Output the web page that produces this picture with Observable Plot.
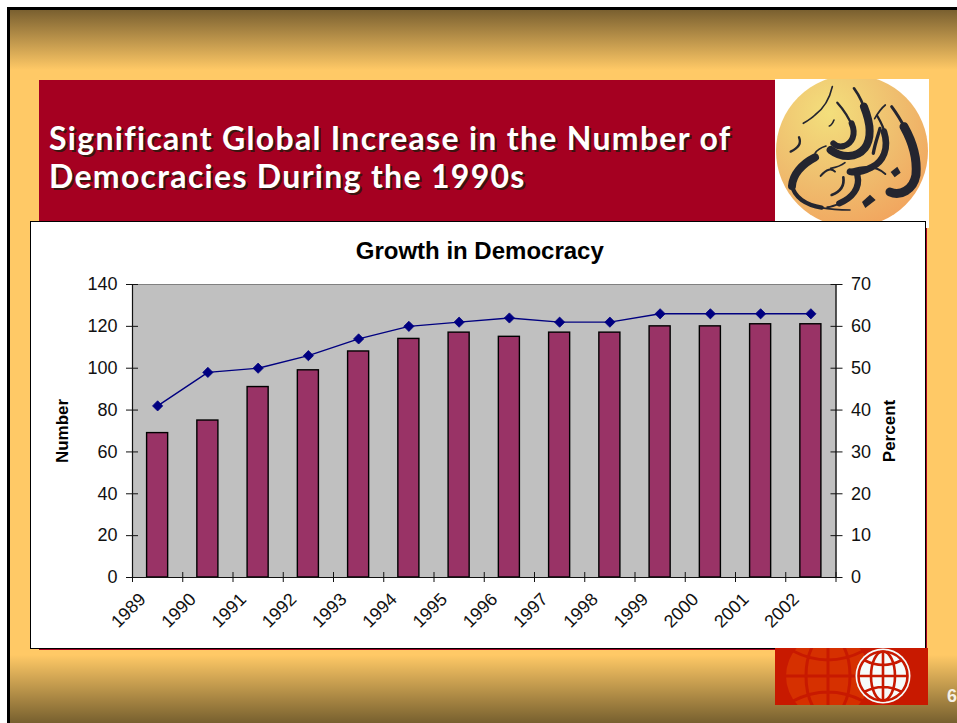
<!DOCTYPE html>
<html>
<head>
<meta charset="utf-8">
<script src="https://cdn.jsdelivr.net/npm/d3@7"></script>
<script src="https://cdn.jsdelivr.net/npm/@observablehq/plot@0.6"></script>
<style>
  html, body { margin: 0; padding: 0; background: #fff; overflow: hidden; }
  #slide { position: relative; width: 957px; height: 723px; overflow: hidden; }
  #slide > * { position: absolute; }
  #ground {
    left: 7px; top: 7px; width: 950px; height: 716px; box-sizing: border-box;
    border-left: 3px solid #000; border-top: 3px solid #000;
    background: linear-gradient(to bottom, #7a6030 0, #ffc966 60px, #ffc966 645px, #77602f 713px);
  }
  #band { left: 39px; top: 80px; width: 888px; height: 570px; background: #a50021; }
  #headline {
    left: 49px; top: 119px; color: #fff; margin: 0;
    font: 700 32px/38px "Lato", sans-serif; letter-spacing: 1.3px;
    text-shadow: 2px 2px 0 #3a1510;
  }
  #seal { left: 700px; top: 60px; }
  #panel { left: 30px; top: 221px; width: 896px; height: 428px; box-sizing: border-box; background: #fff; border: 1px solid #000; }
  #globe { left: 775px; top: 648px; }
  #page { left: 947px; top: 686px; color: #f5f0e6; font: 700 18px "Liberation Sans", sans-serif; }
  #chart { left: 0; top: 0; }
  #chart svg { display: block; background: transparent; }
  g[aria-label="number title"] text, g[aria-label="percent title"] text { letter-spacing: -1.5px; }
  g[aria-label="chart title"] text { letter-spacing: 1.8px; }
</style>
</head>
<body>
<div id="slide">
  <div id="ground"></div>
  <div id="band"></div>
  <h1 id="headline">Significant Global Increase in the Number of<br>Democracies During the 1990s</h1>

  <svg id="seal" width="257" height="240" viewBox="700 60 257 240">
    <defs>
      <radialGradient id="sealFill" cx="35%" cy="25%" r="85%">
        <stop offset="0" stop-color="#f3df7c"/>
        <stop offset=".55" stop-color="#efbd6e"/>
        <stop offset="1" stop-color="#f2a25c"/>
      </radialGradient>
      <clipPath id="sealBox"><rect x="775" y="79" width="154" height="149"/></clipPath>
    </defs>
    <rect x="775" y="79" width="154" height="149" fill="#fff"/>
    <circle cx="852" cy="151" r="76" fill="url(#sealFill)" clip-path="url(#sealBox)"/>
    <g transform="translate(700 60) scale(.3333)" fill="none" stroke="#24252f" stroke-linecap="round" stroke-linejoin="round">
      <path stroke-width="8" d="M462 85C480 110 490 130 497 160"/>
      <path stroke-width="24" d="M492 140C512 190 516 235 494 265C470 295 425 295 392 270"/>
      <path stroke-width="5" d="M397 80C388 120 372 145 345 165C335 175 322 183 310 190"/>
      <path stroke-width="7" d="M412 128C432 150 450 180 460 205"/>
      <path stroke-width="18" d="M455 190C470 225 455 250 432 258C418 262 408 258 400 250"/>
      <path stroke-width="5" d="M402 180C398 190 394 196 388 198"/>
      <path stroke-width="9" d="M575 140C590 160 605 185 618 210"/>
      <path stroke-width="27" d="M612 200C640 250 652 300 648 345C640 390 600 410 570 396"/>
      <path stroke-width="5" d="M556 135C540 148 532 162 524 176"/>
      <path stroke-width="7" d="M532 168C545 190 552 205 556 225"/>
      <path stroke-width="20" d="M552 215C568 265 550 305 515 322C490 335 470 340 450 335"/>
      <path stroke-width="6" d="M452 330C490 318 525 315 556 342"/>
      <path stroke-width="24" d="M345 292C305 312 278 345 276 378"/>
      <path stroke-width="13" d="M276 375C282 412 318 435 365 443"/>
      <path stroke-width="5" d="M362 443C390 448 420 450 450 450"/>
      <path stroke-width="19" d="M472 345C482 385 455 415 418 430"/>
      <path stroke-width="6" d="M420 430C408 435 395 440 382 442"/>
      <path stroke-width="8" d="M395 405C420 396 434 378 430 352"/>
      <path stroke-width="7" d="M272 275C296 264 304 248 297 232"/>
      <path stroke-width="6" d="M362 348C380 325 395 325 405 335"/>
      <path stroke-width="5" d="M392 325C410 322 425 316 435 308"/>
      <path stroke-width="5" d="M345 280C350 272 365 262 378 258"/>
      <path stroke-width="10" d="M520 280C525 250 535 225 540 205"/>
      <path fill="#24252f" stroke="none" d="M486 426L510 404L527 420L496 444Z"/>
      <path fill="#24252f" stroke="none" d="M572 336L592 320L602 338L584 352Z"/>
    </g>
  </svg>

  <div id="panel"></div>

  <svg id="globe" width="153" height="57" viewBox="775 648 153 57">
    <rect x="775" y="648" width="153" height="57" fill="#c81900"/>
    <g fill="none">
      <circle cx="828" cy="676" r="42" fill="#d63000"/>
      <g stroke="#c81900" stroke-width="3">
        <ellipse cx="828" cy="676" rx="22" ry="42"/>
        <path d="M828 634V718M786 676H870M793 651Q828 669 863 651M793 701Q828 683 863 701"/>
      </g>
      <circle cx="883" cy="676" r="27.5" fill="#f6fbfa"/>
      <g stroke="#c81900" stroke-width="2.6">
        <circle cx="883" cy="676" r="24.5"/>
        <ellipse cx="883" cy="676" rx="12" ry="24.5"/>
        <path d="M883 652V700M859 676H907M864 660Q883 670 902 660M864 692Q883 682 902 692"/>
      </g>
    </g>
  </svg>

  <div id="page">6</div>
  <div id="chart"></div>
</div>

<script>
// Democracies worldwide, count (left axis) and share of all countries (right axis)
const years = [1989, 1990, 1991, 1992, 1993, 1994, 1995, 1996, 1997, 1998, 1999, 2000, 2001, 2002];
const numberOfDemocracies = [69, 75, 91, 99, 108, 114, 117, 115, 117, 117, 120, 120, 121, 121];
const percentDemocracies = [41, 49, 50, 53, 57, 60, 61, 62, 61, 61, 63, 63, 63, 63];
const leftTicks = [0, 20, 40, 60, 80, 100, 120, 140];

const chartTitle = "Growth in Democracy";
const leftTitle = "Number";
const rightTitle = "Percent";

const rows = years.map((year, i) => ({
  year,
  number: numberOfDemocracies[i],
  percent: percentDemocracies[i]
}));
// Year ticks sit on the category boundaries, so one more closes the last bar's slot.
const xTicks = [...years, years[years.length - 1] + 1];

const font = "'Liberation Sans', Arial, sans-serif";
const ink = "#111";
const barInset = 14.6;

const plot = Plot.plot({
  width: 957,
  height: 723,
  marginLeft: 132,
  marginRight: 121.5,
  marginTop: 284,
  marginBottom: 146,
  style: { fontFamily: font, fontSize: "18px", color: ink, background: "transparent" },
  x: { domain: [xTicks[0], xTicks[xTicks.length - 1]] },
  y: { domain: [0, 140] },
  marks: [
    Plot.frame({ fill: "#c0c0c0", stroke: "#808080" }),
    Plot.rectY(rows, {
      x1: "year",
      x2: d => d.year + 1,
      y: "number",
      insetLeft: barInset,
      insetRight: barInset,
      fill: "#993366",
      stroke: "#000",
      strokeWidth: 1.4
    }),
    Plot.ruleX([xTicks[0], xTicks[xTicks.length - 1]], { stroke: ink, strokeWidth: 1.2 }),
    Plot.ruleY([0], { stroke: ink, strokeWidth: 1.2 }),
    Plot.axisX({ ticks: xTicks, tickFormat: () => "", tickSize: 10, dy: -5, label: null, stroke: ink }),
    Plot.axisY({ ticks: leftTicks, tickSize: 12, dx: 6, tickPadding: 9, label: null, stroke: ink }),
    Plot.axisY({
      anchor: "right",
      ticks: leftTicks,
      tickFormat: d => d / 2,
      tickSize: 12,
      dx: -6,
      tickPadding: 9,
      label: null,
      stroke: ink
    }),
    // Percentages run on the right axis, where 70 lines up with 140 on the left.
    Plot.line(rows, {
      x: d => d.year + 0.5,
      y: d => d.percent * 2,
      stroke: "#000080",
      strokeWidth: 1.4
    }),
    Plot.dot(rows, {
      x: d => d.year + 0.5,
      y: d => d.percent * 2,
      symbol: "diamond2",
      r: 4.6,
      fill: "#000080",
      stroke: "#000080",
      strokeWidth: 0.8
    }),
    Plot.text(years, {
      x: d => d,
      y: () => 0,
      text: d => String(d),
      rotate: -45,
      dx: -4,
      dy: 33,
      fill: ink
    }),
    Plot.text([chartTitle], {
      ariaLabel: "chart title",
      frameAnchor: "top",
      dx: -4.5,
      dy: -43,
      fontWeight: "bold",
      fontSize: 24,
      fill: "#000"
    }),
    Plot.text([leftTitle], {
      ariaLabel: "number title",
      frameAnchor: "left",
      textAnchor: "middle",
      dx: -70,
      rotate: -90,
      fontWeight: "bold",
      fontSize: 17,
      fill: "#000"
    }),
    Plot.text([rightTitle], {
      ariaLabel: "percent title",
      frameAnchor: "right",
      textAnchor: "middle",
      dx: 54,
      rotate: -90,
      fontWeight: "bold",
      fontSize: 17,
      fill: "#000"
    })
  ]
});

document.getElementById("chart").appendChild(plot);
</script>
</body>
</html>
